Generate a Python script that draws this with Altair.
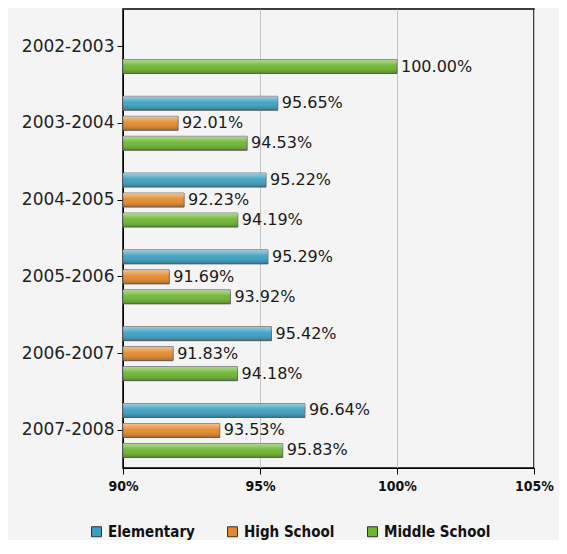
import altair as alt
import pandas as pd

years = ["2002-2003", "2003-2004", "2004-2005", "2005-2006", "2006-2007", "2007-2008"]
series = ["Elementary", "High School", "Middle School"]
elementary = [None, 95.65, 95.22, 95.29, 95.42, 96.64]
high_school = [None, 92.01, 92.23, 91.69, 91.83, 93.53]
middle_school = [100.00, 94.53, 94.19, 93.92, 94.18, 95.83]
colors = ["#3b9fc1", "#e3892b", "#6cb52f"]
x_ticks = [90, 95, 100, 105]

rows = []
for name, vals in zip(series, [elementary, high_school, middle_school]):
    for yr, v in zip(years, vals):
        if v is not None:
            rows.append({"year": yr, "series": name, "value": v, "label": f"{v:.2f}%"})
df = pd.DataFrame(rows)

font = "DejaVu Sans"
cfont = "DejaVu Sans Condensed"

y_enc = alt.Y(
    "year:N", sort=years,
    scale=alt.Scale(paddingInner=0.297, paddingOuter=0.137),
    axis=alt.Axis(title=None, labelFont=font, labelFontSize=17, labelColor="#222222",
                  tickColor="#000000", tickSize=6, labelPadding=3,
                  domainColor="#000000", grid=False),
)
yoff = alt.YOffset("series:N", sort=series, scale=alt.Scale(paddingInner=0.3, paddingOuter=0))
x_scale = alt.Scale(domain=[90, 105], zero=False, nice=False)

bars = alt.Chart(df).mark_bar(stroke="#6a6a6a", strokeWidth=1).encode(
    y=y_enc,
    yOffset=yoff,
    x=alt.X("value:Q", scale=x_scale,
            axis=alt.Axis(values=x_ticks, labelExpr="datum.value + '%'", title=None,
                          grid=True, gridColor="#c4c4c4", gridWidth=1,
                          labelFont=cfont, labelFontWeight="bold", labelFontSize=14,
                          labelColor="#111111", labelFlush=False, labelOverlap=False,
                          tickColor="#000000", tickSize=6, labelPadding=5,
                          domainColor="#000000")),
    x2=alt.X2(datum=90),
    color=alt.Color("series:N", sort=series,
                    scale=alt.Scale(domain=series, range=colors),
                    legend=alt.Legend(orient="none", legendX=-34, legendY=515,
                                      direction="horizontal", title=None,
                                      symbolType="square", symbolSize=100,
                                      symbolStrokeColor="#333333", symbolStrokeWidth=1,
                                      symbolOpacity=1,
                                      labelFont=cfont, labelFontWeight="bold",
                                      labelFontSize=15, labelColor="#111111",
                                      columnPadding=30, labelOffset=4, padding=0)),
)

overlay = alt.Chart(df).mark_bar(
    fill=alt.Gradient(
        gradient="linear",
        stops=[
            alt.GradientStop(offset=0, color="rgba(255,255,255,0.5)"),
            alt.GradientStop(offset=0.45, color="rgba(255,255,255,0.05)"),
            alt.GradientStop(offset=1, color="rgba(0,0,0,0.25)"),
        ],
        x1=0, x2=0, y1=0, y2=1,
    ),
    strokeWidth=0,
).encode(
    y=alt.Y("year:N", sort=years),
    yOffset=yoff,
    x=alt.X("value:Q", scale=x_scale),
    x2=alt.X2(datum=90),
)

text = alt.Chart(df).mark_text(
    align="left", baseline="middle", dx=4, font=font, fontSize=16, color="#1a1a1a"
).encode(
    y=alt.Y("year:N", sort=years),
    yOffset=yoff,
    x=alt.X("value:Q", scale=x_scale),
    text="label:N",
)

chart = alt.layer(bars, overlay, text).properties(
    width=411, height=459,
    background="#f4f4f4",
    padding={"left": 13, "top": 1, "right": 5, "bottom": 0},
).configure_view(
    stroke="#000000", strokeWidth=1.5, fill="#f4f4f4"
)

chart.save("out.html", embed_options={"renderer": "svg", "actions": False})
